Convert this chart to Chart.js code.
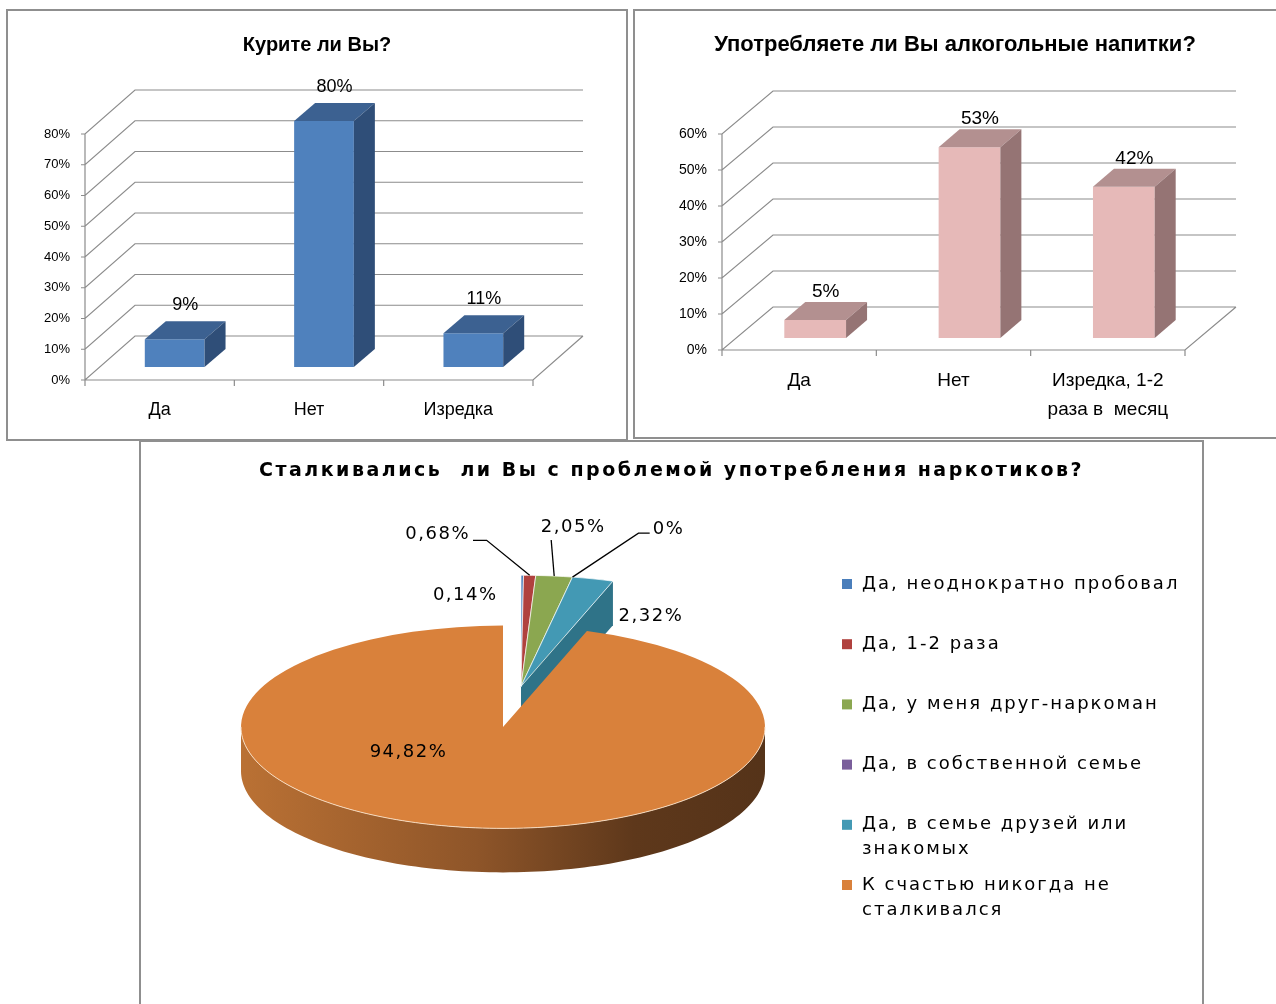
<!DOCTYPE html>
<html lang="ru">
<head>
<meta charset="utf-8">
<title>Анкета</title>
<script src="https://cdn.jsdelivr.net/npm/chart.js@4.4.1/dist/chart.umd.min.js"></script>
<style>
  html, body { margin: 0; padding: 0; background: #fff; }
  body { position: relative; width: 1276px; height: 1004px; overflow: hidden; }
  canvas, .frame { position: absolute; }
  .frame { border: 2px solid #8f8f8f; box-sizing: border-box; pointer-events: none; }
</style>
</head>
<body>
<canvas id="smoke" width="620" height="430" style="left:7px;top:10px"></canvas>
<canvas id="alco" width="642" height="430" style="left:634px;top:10px"></canvas>
<canvas id="drugs" width="1063" height="563" style="left:140px;top:441px"></canvas>
<div class="frame" style="left:6px;top:9px;width:622px;height:432px"></div>
<div class="frame" style="left:633px;top:9px;width:700px;height:430px"></div>
<div class="frame" style="left:139px;top:440px;width:1065px;height:600px"></div>

<script>
const FONT_BAR = "'Liberation Sans', Arial, sans-serif";
const FONT_PIE = "'DejaVu Sans', Verdana, sans-serif";

// --- data ---
const smokeTitle = 'Курите ли Вы?';
const smokeLabels = ['Да', 'Нет', 'Изредка'];
const smokeValues = [9, 80, 11];
const smokeMax = 80;

const alcoTitle = 'Употребляете ли Вы алкогольные напитки?';
const alcoLabels = ['Да', 'Нет', ['Изредка, 1-2', 'раза в  месяц']];
const alcoValues = [5, 53, 42];
const alcoMax = 60;

const tickStep = 10;

const drugTitle = 'Сталкивались  ли Вы с проблемой употребления наркотиков?';
const drugLabels = [
  'Да, неоднократно пробовал',
  'Да, 1-2 раза',
  'Да, у меня друг-наркоман',
  'Да, в собственной семье',
  'Да, в семье друзей или знакомых',
  'К счастью никогда не сталкивался'
];
const drugValues = [0.14, 0.68, 2.05, 0, 2.32, 94.82];

// --- styles ---
const drugColors = ['#4A7EBB', '#B0413E', '#8BA750', '#7A5E9B', '#4399B4', '#D9813B'];
const drugWalls = ['#35598A', '#86302E', '#6C863C', '#5C4676', '#2F7388', '#8E5529'];
const drugExploded = [true, true, true, true, true, false];
const drugLabelOffsets = [[-57, 20], [-92, -41], [19, -49], [96, -48], [58, 37], [-52, -75]];
const drugLeaders = [null, [-43, -35], [-3, -36], [66, -44], null, null];

function poly(ctx, pts) {
  ctx.beginPath();
  pts.forEach(([x, y], i) => i ? ctx.lineTo(x, y) : ctx.moveTo(x, y));
  ctx.closePath();
  ctx.fill();
}

// walls, grid and the extruded faces of the bars
const bar3d = {
  id: 'bar3d',
  beforeDatasetsDraw(chart, args, o) {
    const {ctx, chartArea: a} = chart;
    const ys = chart.scales.y;
    const [wx, wy] = o.wall;
    const n = chart.data.labels.length;
    const band = (a.right - a.left) / n;
    ctx.save();
    ctx.strokeStyle = '#8c8c8c';
    ctx.lineWidth = 1.2;
    ctx.beginPath();
    ys.ticks.forEach(t => {
      const y = ys.getPixelForValue(t.value);
      ctx.moveTo(a.left - 4, y);
      ctx.lineTo(a.left, y);
      ctx.lineTo(a.left + wx, y + wy);
      ctx.lineTo(a.right + wx, y + wy);
    });
    ctx.moveTo(a.left, a.top);
    ctx.lineTo(a.left, a.bottom);
    ctx.lineTo(a.right, a.bottom);
    ctx.lineTo(a.right + wx, a.bottom + wy);
    for (let i = 0; i <= n; i++) {
      const x = a.left + i * band;
      ctx.moveTo(x, a.bottom);
      ctx.lineTo(x, a.bottom + 6);
    }
    ctx.stroke();
    ctx.restore();
    // bars sit halfway into the depth
    ctx.save();
    ctx.translate(o.shift[0], o.shift[1]);
  },
  afterDatasetsDraw(chart, args, o) {
    const ctx = chart.ctx;
    ctx.restore();
    const [sx, sy] = o.shift, [dx, dy] = o.depth;
    const values = chart.data.datasets[0].data;
    ctx.save();
    chart.getDatasetMeta(0).data.forEach((bar, i) => {
      const x0 = bar.x - bar.width / 2 + sx, x1 = bar.x + bar.width / 2 + sx;
      const yt = bar.y + sy, yb = bar.base + sy;
      ctx.fillStyle = o.topColor;
      poly(ctx, [[x0, yt], [x1, yt], [x1 + dx, yt + dy], [x0 + dx, yt + dy]]);
      ctx.fillStyle = o.sideColor;
      poly(ctx, [[x1, yt], [x1 + dx, yt + dy], [x1 + dx, yb + dy], [x1, yb]]);
      ctx.fillStyle = '#000';
      ctx.font = o.labelSize + 'px ' + FONT_BAR;
      ctx.textAlign = 'center';
      ctx.textBaseline = 'middle';
      ctx.fillText(values[i] + '%', bar.x + sx + dx / 2, yt + dy - o.labelGap);
    });
    ctx.restore();
  }
};

function makeBars(id, g) {
  new Chart(document.getElementById(id), {
    type: 'bar',
    data: {
      labels: g.labels,
      datasets: [{
        data: g.values,
        backgroundColor: g.front,
        borderWidth: 0,
        clip: false,
        categoryPercentage: 1,
        barPercentage: 0.4
      }]
    },
    options: {
      responsive: false,
      animation: false,
      events: [],
      layout: { padding: 0 },
      plugins: {
        legend: { display: false },
        tooltip: { enabled: false },
        title: {
          display: true,
          text: g.title,
          color: '#000',
          font: { family: FONT_BAR, size: g.titleSize, weight: 'bold', lineHeight: 1.2 },
          padding: { top: 35 - g.titleSize * 0.6, bottom: g.areaTop - 35 - g.titleSize * 0.6 }
        },
        bar3d: g.look
      },
      scales: {
        x: {
          grid: { display: false, drawTicks: false },
          border: { display: false },
          ticks: {
            color: '#000',
            padding: g.xPad,
            maxRotation: 0,
            font: { family: FONT_BAR, size: g.xSize, lineHeight: g.xLine }
          },
          afterFit: s => { s.height = g.xAxisH; }
        },
        y: {
          min: 0,
          max: g.max,
          grid: { display: false, drawTicks: false },
          border: { display: false },
          ticks: {
            stepSize: tickStep,
            color: '#000',
            padding: 15,
            font: { family: FONT_BAR, size: g.ySize },
            callback: v => v + '%'
          },
          afterFit: s => { s.width = g.yAxisW; }
        },
        // empty strip on the right that leaves room for the back wall
        depth: {
          type: 'linear',
          position: 'right',
          grid: { display: false, drawTicks: false },
          border: { display: false },
          ticks: { display: false },
          afterFit: s => { s.width = g.padRight; }
        }
      }
    },
    plugins: [bar3d]
  });
}

makeBars('smoke', {
  title: smokeTitle, labels: smokeLabels, values: smokeValues, max: smokeMax,
  front: '#4F81BD', titleSize: 20, areaTop: 124, padRight: 94, yAxisW: 78, xAxisH: 60,
  xPad: 19, xSize: 18, xLine: 1.2, ySize: 13,
  look: { wall: [50, -44], shift: [15, -13], depth: [21, -18], topColor: '#3C6191', sideColor: '#2F4E78', labelGap: 16, labelSize: 18 }
});

makeBars('alco', {
  title: alcoTitle, labels: alcoLabels, values: alcoValues, max: alcoMax,
  front: '#E6B9B8', titleSize: 22, areaTop: 124, padRight: 91, yAxisW: 88, xAxisH: 90,
  xPad: 16.5, xSize: 19, xLine: 1.53, ySize: 14,
  look: { wall: [51, -43], shift: [16, -12], depth: [21, -18], topColor: '#B39090', sideColor: '#957474', labelGap: 10, labelSize: 19 }
});

// squashed pie with a rim, exploded small slices, labels and a wrapped legend
const pie3d = {
  id: 'pie3d',
  afterDatasetsUpdate(chart, args, o) {
    chart.getDatasetMeta(0).data.forEach((arc, i) => {
      if (!o.exploded[i]) return;
      arc.x += o.shift[0];
      arc.y += o.shift[1];
      arc.outerRadius += o.grow;
    });
  },
  beforeDatasetsDraw(chart, args, o) {
    const ctx = chart.ctx;
    const a = chart.chartArea;
    const cy = (a.top + a.bottom) / 2;
    const py = y => cy + (y - cy) * o.k;
    const arcs = chart.getDatasetMeta(0).data;
    ctx.save();
    // radial walls that face the viewer
    arcs.forEach((arc, i) => {
      if (arc.endAngle - arc.startAngle <= 0) return;
      const R = arc.outerRadius;
      [[arc.startAngle, -1], [arc.endAngle, 1]].forEach(([ang, side]) => {
        if (Math.cos(ang) * side <= 0.001) return;
        const ex = arc.x + R * Math.cos(ang), ey = py(arc.y + R * Math.sin(ang));
        const c = py(arc.y);
        ctx.fillStyle = o.walls[i];
        poly(ctx, [[arc.x, c], [ex, ey], [ex, ey + o.depth], [arc.x, c + o.depth]]);
      });
    });
    // front rim
    arcs.forEach((arc, i) => {
      const a0 = Math.max(arc.startAngle, 0), a1 = Math.min(arc.endAngle, Math.PI);
      if (a1 <= a0) return;
      const R = arc.outerRadius;
      const grad = ctx.createLinearGradient(arc.x - R, 0, arc.x + R, 0);
      (o.rims[i] || [[0, o.walls[i]], [1, o.walls[i]]]).forEach(([s, c]) => grad.addColorStop(s, c));
      const pts = [];
      const steps = 120;
      for (let k = 0; k <= steps; k++) {
        const t = a0 + (a1 - a0) * k / steps;
        pts.push([arc.x + R * Math.cos(t), py(arc.y + R * Math.sin(t))]);
      }
      for (let k = steps; k >= 0; k--) {
        const t = a0 + (a1 - a0) * k / steps;
        pts.push([arc.x + R * Math.cos(t), py(arc.y + R * Math.sin(t)) + o.depth]);
      }
      ctx.fillStyle = grad;
      poly(ctx, pts);
    });
    ctx.restore();
    // top faces drawn by the library, squashed into an ellipse
    ctx.save();
    ctx.translate(0, cy);
    ctx.scale(1, o.k);
    ctx.translate(0, -cy);
  },
  afterDatasetsDraw(chart, args, o) {
    const ctx = chart.ctx;
    ctx.restore();
    const a = chart.chartArea;
    const cy = (a.top + a.bottom) / 2;
    const py = y => cy + (y - cy) * o.k;
    const arcs = chart.getDatasetMeta(0).data;
    const values = chart.data.datasets[0].data;
    ctx.save();
    // light edge along the front of the top face
    arcs.forEach(arc => {
      const a0 = Math.max(arc.startAngle, 0), a1 = Math.min(arc.endAngle, Math.PI);
      if (a1 <= a0) return;
      ctx.beginPath();
      for (let k = 0; k <= 120; k++) {
        const t = a0 + (a1 - a0) * k / 120;
        ctx.lineTo(arc.x + arc.outerRadius * Math.cos(t), py(arc.y + arc.outerRadius * Math.sin(t)));
      }
      ctx.strokeStyle = 'rgba(250,225,200,0.9)';
      ctx.lineWidth = 1;
      ctx.stroke();
    });
    // value labels and leader lines
    ctx.font = '18px ' + FONT_PIE;
    ctx.letterSpacing = '1.5px';
    ctx.fillStyle = '#000';
    ctx.strokeStyle = '#000';
    ctx.lineWidth = 1.3;
    ctx.textAlign = 'center';
    ctx.textBaseline = 'middle';
    arcs.forEach((arc, i) => {
      const m = (arc.startAngle + arc.endAngle) / 2;
      const ax = arc.x + arc.outerRadius * Math.cos(m);
      const ay = py(arc.y + arc.outerRadius * Math.sin(m));
      const [ox, oy] = o.labelOffsets[i];
      const lx = ax + ox, ly = ay + oy;
      const text = String(values[i]).replace('.', ',') + '%';
      ctx.fillText(text, lx, ly);
      const leader = o.leaders[i];
      if (leader) {
        const bx = ax + leader[0], by = ay + leader[1];
        const w = ctx.measureText(text).width;
        ctx.beginPath();
        ctx.moveTo(ax, ay);
        ctx.lineTo(bx, by);
        if (lx > bx && lx - w / 2 - 3 > bx) ctx.lineTo(lx - w / 2 - 3, by);
        if (lx < bx && lx + w / 2 + 3 < bx) ctx.lineTo(lx + w / 2 + 3, by);
        ctx.stroke();
      }
    });
    ctx.restore();
  },
  afterDraw(chart, args, o) {
    const ctx = chart.ctx;
    ctx.save();
    ctx.fillStyle = '#000';
    ctx.textBaseline = 'middle';
    // title
    ctx.font = 'bold 19px ' + FONT_PIE;
    ctx.letterSpacing = '2.5px';
    ctx.textAlign = 'center';
    ctx.fillText(o.title, chart.width / 2, 30);
    // legend
    ctx.font = '18px ' + FONT_PIE;
    ctx.letterSpacing = '2px';
    ctx.textAlign = 'left';
    const colors = chart.data.datasets[0].backgroundColor;
    chart.data.labels.forEach((label, i) => {
      const y = o.legend.y + i * o.legend.step;
      ctx.fillStyle = colors[i];
      ctx.fillRect(o.legend.x, y - 5, 10, 10);
      ctx.fillStyle = '#000';
      const words = label.split(' ');
      let line = '', row = 0;
      words.forEach(wd => {
        const test = line ? line + ' ' + wd : wd;
        if (line && ctx.measureText(test).width > o.legend.maxWidth) {
          ctx.fillText(line, o.legend.x + 20, y + row * o.legend.line);
          row++;
          line = wd;
        } else {
          line = test;
        }
      });
      ctx.fillText(line, o.legend.x + 20, y + row * o.legend.line);
    });
    ctx.restore();
  }
};

new Chart(document.getElementById('drugs'), {
  type: 'pie',
  data: {
    labels: drugLabels,
    datasets: [{
      data: drugValues,
      backgroundColor: drugColors,
      borderColor: '#fff',
      borderWidth: [1, 1, 1, 1, 1, 0],
      clip: false
    }]
  },
  options: {
    responsive: false,
    animation: false,
    events: [],
    radius: 262,
    layout: { padding: { left: 0, right: 337, top: 40, bottom: 31 } },
    plugins: {
      legend: { display: false },
      tooltip: { enabled: false },
      title: { display: false },
      pie3d: {
        title: drugTitle,
        k: 0.387,
        depth: 44,
        shift: [18, -105],
        grow: 25,
        exploded: drugExploded,
        walls: drugWalls,
        rims: { 5: [[0, '#BA7134'], [0.45, '#8E5529'], [0.75, '#5E381B'], [1, '#553319']] },
        labelOffsets: drugLabelOffsets,
        leaders: drugLeaders,
        legend: { x: 702, y: 143, step: 60.2, line: 25, maxWidth: 330 }
      }
    }
  },
  plugins: [pie3d]
});
</script>
</body>
</html>
